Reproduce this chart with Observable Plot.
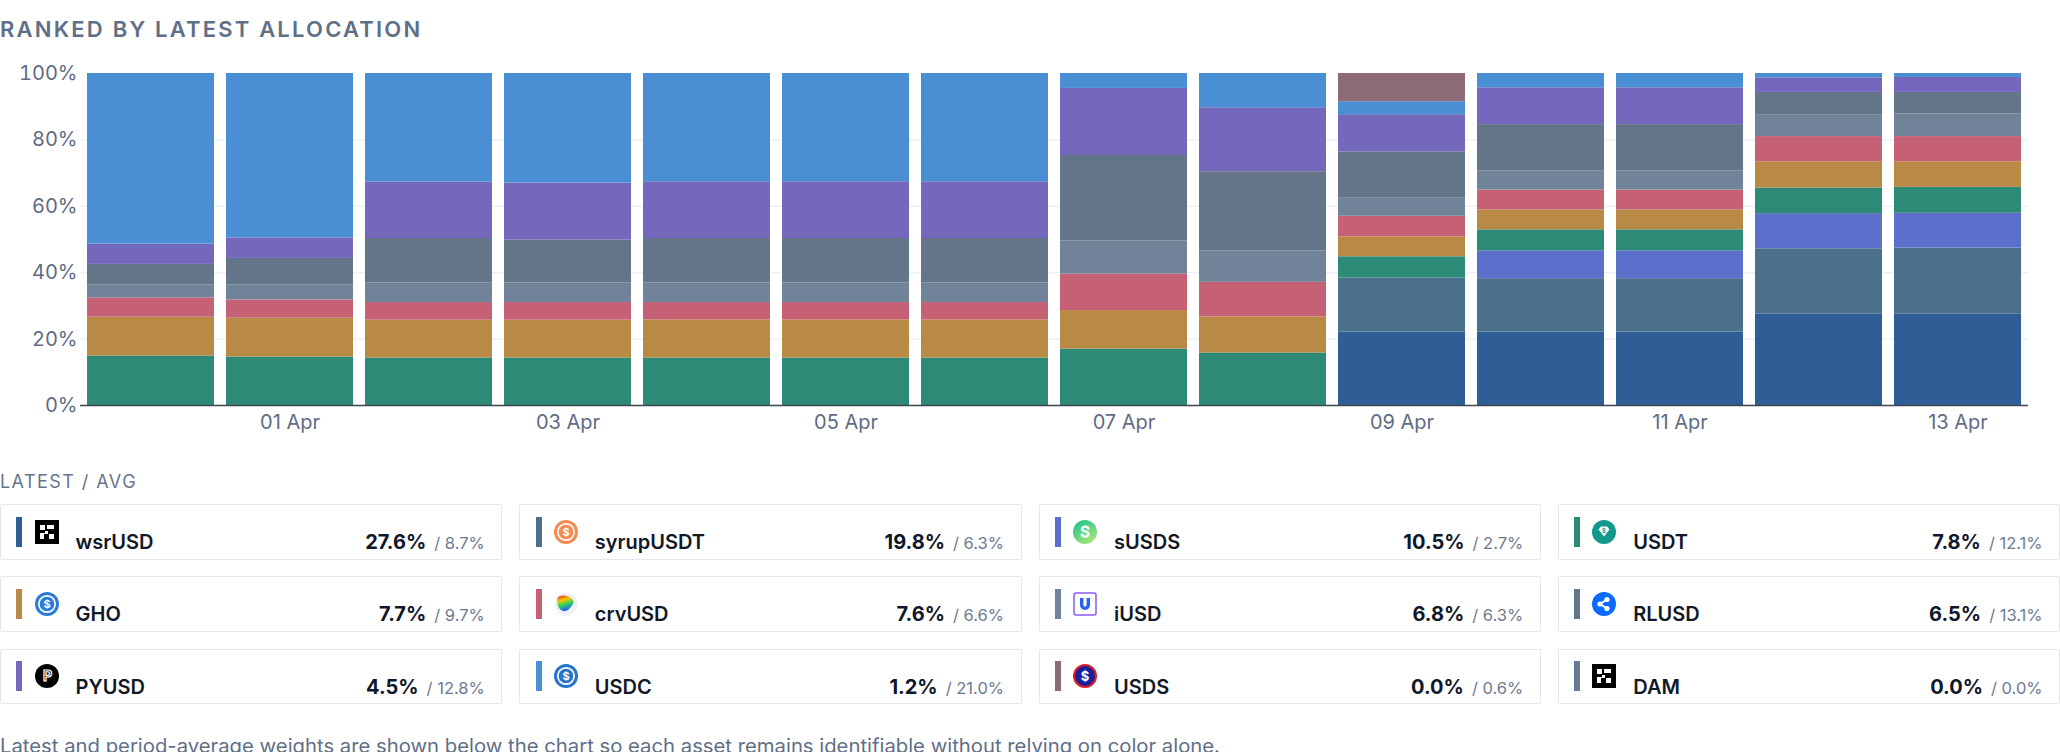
<!DOCTYPE html>
<html>
<head>
<meta charset="utf-8">
<script src="https://cdn.jsdelivr.net/npm/d3@7"></script>
<script src="https://cdn.jsdelivr.net/npm/@observablehq/plot@0.6"></script>
<style>
  html, body { margin: 0; padding: 0; width: 2060px; height: 752px; overflow: hidden; background: #fff; font-family: "Inter", "Noto Sans", sans-serif; }
  .abs { position: absolute; left: 0; }
  #title { top: 17.7px; font-size: 22px; line-height: 22px; font-weight: 600; letter-spacing: 0.1em; color: #5f6f87; white-space: nowrap; }
  #chart { top: 50px; }
  #sub { top: 473.4px; font-size: 18px; line-height: 18px; letter-spacing: 0.08em; color: #64748b; white-space: nowrap; }
  #cards { top: 504.3px; width: 2060px; display: grid; grid-template-columns: repeat(4, 1fr); column-gap: 17px; row-gap: 16.8px; }
  .card { position: relative; box-sizing: border-box; height: 55.4px; border: 1.5px solid #e3e8ef; border-radius: 2px; background: #fff; }
  .sw { position: absolute; left: 15.4px; top: 11.5px; width: 6px; height: 30px; }
  .ic { position: absolute; left: 33.5px; top: 14.5px; width: 24px; height: 24px; }
  .ic svg { display: block; }
  .nm { position: absolute; left: 74.5px; top: 26.9px; font-size: 20px; line-height: 20px; font-weight: 600; color: #111827; white-space: nowrap; }
  .vals { position: absolute; right: 16.5px; top: 26.9px; font-size: 20px; line-height: 20px; white-space: nowrap; }
  .lt { font-weight: 700; color: #0f172a; }
  .av { font-size: 16.5px; color: #6b7a90; margin-left: 8px; }
  #foot { top: 736.2px; font-size: 20.3px; line-height: 20.3px; color: #5f6f87; white-space: nowrap; }
</style>
</head>
<body>
<div id="title" class="abs">RANKED BY LATEST ALLOCATION</div>
<div id="chart" class="abs"></div>
<div id="sub" class="abs">LATEST / AVG</div>
<div id="cards" class="abs"></div>
<div id="foot" class="abs">Latest and period-average weights are shown below the chart so each asset remains identifiable without relying on color alone.</div>
<script>
// ---- data ----
const dates = ["31 Mar","01 Apr","02 Apr","03 Apr","04 Apr","05 Apr","06 Apr","07 Apr","08 Apr","09 Apr","10 Apr","11 Apr","12 Apr","13 Apr"];
const tickLabels = ["01 Apr","03 Apr","05 Apr","07 Apr","09 Apr","11 Apr","13 Apr"];
const series = ["wsrUSD","syrupUSDT","sUSDS","USDT","GHO","crvUSD","iUSD","RLUSD","PYUSD","USDC","USDS","DAM"];
const colors = ["#2f5e96","#4a708c","#5c70cb","#2d8a76","#b88a46","#c66075","#718399","#647489","#7468bc","#4a8fd4","#8c6b76","#687891"];

const wsrUSD    = [0,0,0,0,0,0,0,0,0,22.1,22.1,22.1,27.6,27.6];
const syrupUSDT = [0,0,0,0,0,0,0,0,0,16.3,16.1,16.1,19.6,19.8];
const sUSDS     = [0,0,0,0,0,0,0,0,0,0,8.4,8.4,10.6,10.5];
const USDT      = [14.9,14.6,14.3,14.3,14.3,14.3,14.3,17.0,15.8,6.4,6.3,6.3,7.7,7.8];
const GHO       = [11.7,11.7,11.4,11.4,11.5,11.5,11.5,11.6,10.9,6.0,6.0,6.0,7.9,7.7];
const crvUSD    = [5.8,5.5,5.3,5.3,5.2,5.2,5.2,11.0,10.4,6.2,6.0,6.0,7.6,7.6];
const iUSD      = [3.9,4.5,5.9,5.9,5.9,5.9,5.9,10.0,9.5,5.6,5.8,5.8,6.6,6.8];
const RLUSD     = [6.2,8.0,13.4,12.9,13.4,13.4,13.4,25.7,23.8,13.8,13.9,13.9,6.7,6.5];
const PYUSD     = [6.1,6.2,17.0,17.2,17.1,17.1,17.1,20.2,19.3,11.2,11.1,11.1,4.4,4.5];
const USDC      = [51.4,49.5,32.7,33.0,32.6,32.6,32.6,4.5,10.3,3.9,4.3,4.3,1.3,1.2];
const USDS      = [0,0,0,0,0,0,0,0,0,8.5,0,0,0,0];
const DAM       = [0,0,0,0,0,0,0,0,0,0,0,0,0,0];

const latest = [27.6,19.8,10.5,7.8,7.7,7.6,6.8,6.5,4.5,1.2,0.0,0.0];
const avg    = [8.7,6.3,2.7,12.1,9.7,6.6,6.3,13.1,12.8,21.0,0.6,0.0];
const yTicks = [0,20,40,60,80,100];
const gridTicks = [20,40,60,80];

const seriesValues = [wsrUSD,syrupUSDT,sUSDS,USDT,GHO,crvUSD,iUSD,RLUSD,PYUSD,USDC,USDS,DAM];
const rows = dates.flatMap((date, i) => series.map((asset, k) => ({date, asset, value: seriesValues[k][i]})))
  .filter(d => d.value > 0);
const tickSet = new Set(tickLabels);

const chart = Plot.plot({
  width: 2060,
  height: 400,
  marginLeft: 80,
  marginRight: 32,
  marginTop: 23,
  marginBottom: 45,
  style: {fontFamily: "Inter, 'Noto Sans', sans-serif", fontSize: "20px", color: "#5e6c84", background: "transparent", overflow: "visible"},
  x: {type: "band", domain: dates, paddingInner: 0.086, paddingOuter: 0.05, label: null, tickSize: 0, tickPadding: 9, tickFormat: d => tickSet.has(d) ? d : ""},
  y: {domain: [0, 100], ticks: yTicks, tickFormat: d => d + "%", label: null, tickSize: 0, tickPadding: 3},
  color: {domain: series, range: colors},
  marks: [
    Plot.ruleY(gridTicks, {stroke: "#edf1f6", strokeWidth: 1.5}),
    Plot.barY(rows, {x: "date", y: "value", fill: "asset", order: series}),
    Plot.ruleY([0], {stroke: "#3f4650", strokeWidth: 1.5})
  ]
});
document.getElementById("chart").appendChild(chart);

// ---- icons (approximate glyphs) ----
function dollarRing(bg) {
  return `<svg width="24" height="24" viewBox="0 0 24 24"><circle cx="12" cy="12" r="12" fill="${bg}"/><circle cx="12" cy="12" r="8.2" fill="none" stroke="#fff" stroke-width="1.7"/><text x="12" y="16" text-anchor="middle" font-family="Inter, sans-serif" font-size="11" font-weight="700" fill="#fff">$</text></svg>`;
}
const pixelSquare = `<svg width="24" height="24" viewBox="0 0 24 24"><rect width="24" height="24" fill="#000"/><rect x="5" y="5" width="5" height="5" fill="#fff"/><rect x="12" y="5" width="7" height="4" fill="#fff"/><path d="M5 19 V13 H10 V11 H13 V14 H9 V19 Z" fill="#fff"/><rect x="14" y="14" width="5" height="5" fill="#fff"/></svg>`;
const icons = {
  wsrUSD: pixelSquare,
  syrupUSDT: dollarRing("#f68a4f"),
  sUSDS: `<svg width="24" height="24" viewBox="0 0 24 24"><defs><linearGradient id="gs" x1="0" y1="0" x2="0.6" y2="1"><stop offset="0" stop-color="#13bf8e"/><stop offset="1" stop-color="#a3e37c"/></linearGradient></defs><circle cx="12" cy="12" r="12" fill="url(#gs)"/><text x="12" y="17" text-anchor="middle" font-family="Inter, sans-serif" font-size="15" font-weight="400" fill="none" stroke="#fff" stroke-width="1.1">S</text></svg>`,
  USDT: `<svg width="24" height="24" viewBox="0 0 24 24"><circle cx="12" cy="12" r="12" fill="#13998b"/><path d="M6.5 9.5 L9 6.5 H15 L17.5 9.5 L12 16.5 Z" fill="#fff"/><text x="12" y="12.8" text-anchor="middle" font-family="Inter, sans-serif" font-size="6.5" font-weight="700" fill="#13998b">$</text></svg>`,
  GHO: dollarRing("#2b7bd8"),
  crvUSD: `<svg width="24" height="24" viewBox="0 0 24 24"><defs><linearGradient id="gc" x1="0" y1="0" x2="0.3" y2="1"><stop offset="0" stop-color="#e3241d"/><stop offset="0.35" stop-color="#f7c600"/><stop offset="0.65" stop-color="#2fd160"/><stop offset="1" stop-color="#1b63f0"/></linearGradient></defs><circle cx="12" cy="12" r="11.5" fill="#eef1f5"/><path d="M4 5 Q12 1 19 8 Q21 11 15 17 Q9 22 5 16 Q2 10 4 5 Z" fill="url(#gc)"/></svg>`,
  iUSD: `<svg width="24" height="24" viewBox="0 0 24 24"><rect x="1" y="1" width="22" height="22" rx="2" fill="#fff" stroke="#8b5cf6" stroke-width="1.5"/><path d="M7 6 V13 A5 5 0 0 0 17 13 V6 H13.6 V13 A1.6 1.6 0 0 1 10.4 13 V6 Z" fill="#2563eb"/></svg>`,
  RLUSD: `<svg width="24" height="24" viewBox="0 0 24 24"><circle cx="12" cy="12" r="12" fill="#0b6bff"/><path d="M8 12 L15 7.5 M8 12 L15 16.5" stroke="#fff" stroke-width="2"/><circle cx="8" cy="12" r="2.6" fill="#fff"/><circle cx="15" cy="7.5" r="2.6" fill="#fff"/><circle cx="15" cy="16.5" r="2.6" fill="#fff"/></svg>`,
  PYUSD: `<svg width="24" height="24" viewBox="0 0 24 24"><circle cx="12" cy="12" r="12" fill="#000"/><text x="12.5" y="17" text-anchor="middle" font-family="Inter, sans-serif" font-size="14" font-weight="700" fill="none" stroke="#fff" stroke-width="1.2">P</text></svg>`,
  USDC: dollarRing("#2775ca"),
  USDS: `<svg width="24" height="24" viewBox="0 0 24 24"><circle cx="12" cy="12" r="11" fill="#1b1d9a" stroke="#e11d2a" stroke-width="2"/><text x="12" y="16.5" text-anchor="middle" font-family="Inter, sans-serif" font-size="13" font-weight="700" fill="#fff">$</text></svg>`,
  DAM: pixelSquare
};

const cards = document.getElementById("cards");
series.forEach((s, k) => {
  const c = document.createElement("div");
  c.className = "card";
  c.innerHTML = `<div class="sw" style="background:${colors[k]}"></div><div class="ic">${icons[s]}</div><div class="nm">${s}</div><div class="vals"><span class="lt">${latest[k].toFixed(1)}%</span><span class="av">/ ${avg[k].toFixed(1)}%</span></div>`;
  cards.appendChild(c);
});
</script>
</body>
</html>
